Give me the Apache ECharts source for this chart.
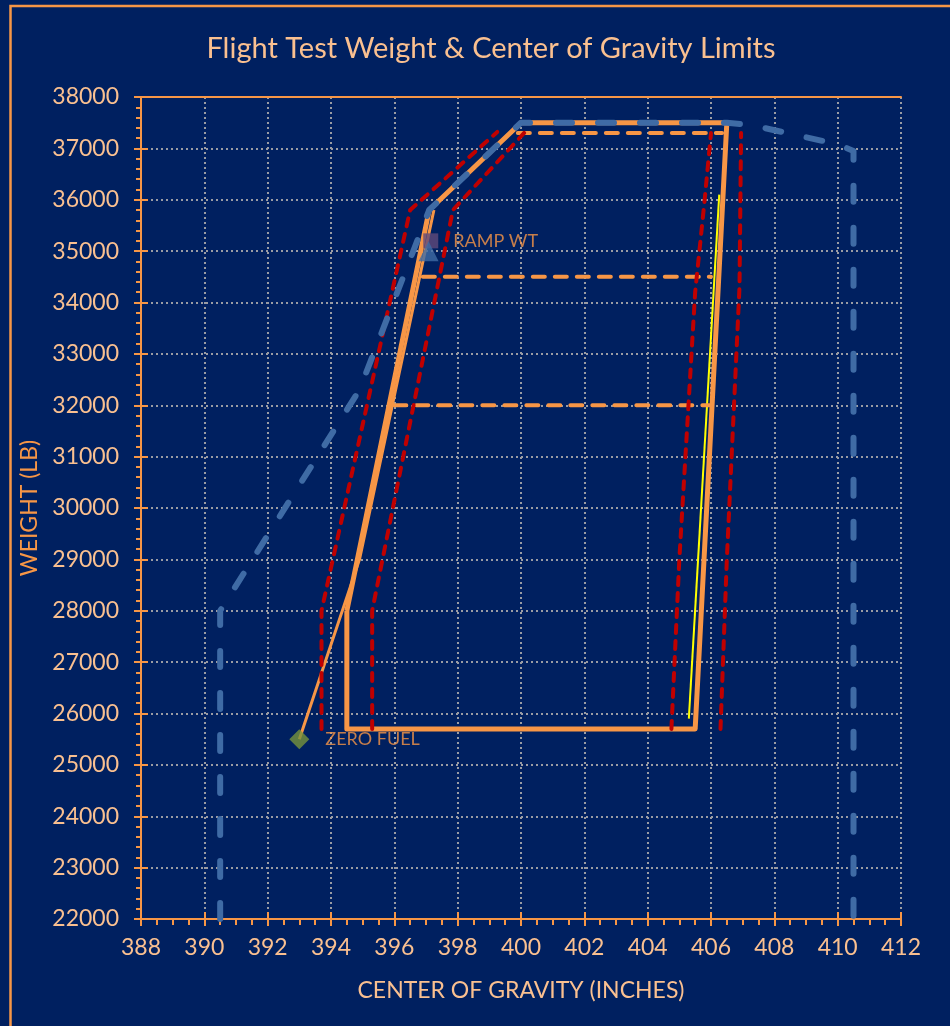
<!DOCTYPE html>
<html>
<head>
<meta charset="utf-8">
<script src="https://cdn.jsdelivr.net/npm/echarts@6/dist/echarts.min.js"></script>
<style>
  html, body { margin: 0; padding: 0; background: #002060; }
  #chart { width: 950px; height: 1026px; }
</style>
</head>
<body>
<div id="chart"></div>
<script>
// CG (inches) / weight (lb) pairs
const envelope = [[394.5, 28000], [394.5, 25700], [405.5, 25700], [406.5, 37500], [400, 37500], [397.1, 35800], [394.5, 28000]];
const fuelBurn = [[393, 25500], [394.9, 29000], [397.25, 35800]];
const aftLimitLine = [[405.3, 25900], [406.26, 36100]];
const wtLine37300 = [[399.9, 37300], [406.35, 37300]];
const wtLine34500 = [[396.9, 34500], [406.0, 34500]];
const wtLine32000 = [[396.0, 32000], [405.95, 32000]];
const fwdOuter = [[393.7, 25700], [393.7, 28000], [396.5, 35800], [399.25, 37320]];
const fwdInner = [[395.3, 25700], [395.3, 28000], [397.85, 35800], [400.1, 37300]];
const aftInner = [[404.75, 25700], [405.0, 29000], [405.5, 34200], [405.8, 36000], [406.0, 37300]];
const aftOuter = [[406.3, 25700], [406.5, 29000], [406.9, 34300], [406.95, 37300]];
const certLimits = [[390.5, 22000], [390.5, 28000], [394.9, 32300], [397.1, 35800], [400, 37500],
  [406.5, 37500], [407.3, 37450], [410.0, 37080], [410.5, 36950], [410.5, 22000]];
const zeroFuel = [393, 25500];
const rampWt = [397.15, 35200];
const takeoffWt = [397.08, 35000];

const ORANGE = '#f79646';
const PEACH = '#fac090';
const FONT = 'Lato';
const GRID_LINE = { show: true, lineStyle: { color: '#9a9ca4', width: 2, type: [2, 3] } };

const chart = echarts.init(document.getElementById('chart'));

const tickLabel = { color: PEACH, fontSize: 23, fontFamily: FONT };
const baseX = { type: 'value', min: 388, max: 412, interval: 2 };
const baseY = { type: 'value', min: 22000, max: 38000, interval: 1000 };

function lineSeries(data, color, width, type, cap, z) {
  return {
    type: 'line',
    data: data,
    showSymbol: false,
    silent: true,
    z: z,
    lineStyle: { color: color, width: width, type: type, cap: cap, join: 'round' }
  };
}

chart.setOption({
  backgroundColor: '#002060',
  animation: false,
  title: {
    text: 'Flight Test Weight & Center of Gravity Limits',
    left: 486,
    top: 29,
    textAlign: 'center',
    textStyle: { color: PEACH, fontSize: 29, fontWeight: 'normal', fontFamily: FONT }
  },
  graphic: [{
    type: 'rect',
    shape: { x: 10.5, y: 6, width: 960, height: 1040 },
    style: { fill: 'none', stroke: ORANGE, lineWidth: 2.5 },
    silent: true
  }],
  grid: { left: 141, right: 49, top: 97, bottom: 107 },
  xAxis: [
    Object.assign({}, baseX, {
      position: 'bottom',
      name: 'CENTER OF GRAVITY (INCHES)',
      nameLocation: 'middle',
      nameGap: 60,
      nameTextStyle: { color: PEACH, fontSize: 23, fontFamily: FONT },
      axisLine: { show: true, lineStyle: { color: ORANGE, width: 2 } },
      axisTick: { show: true, length: 7, lineStyle: { color: ORANGE, width: 2 } },
      minorTick: { show: true, splitNumber: 4, length: 6, lineStyle: { color: ORANGE, width: 2 } },
      axisLabel: Object.assign({ margin: 17 }, tickLabel),
      splitLine: GRID_LINE
    }),
    Object.assign({}, baseX, {
      position: 'bottom',
      axisLine: { show: false },
      axisTick: { show: true, inside: true, length: 7, lineStyle: { color: ORANGE, width: 2 } },
      axisLabel: { show: false },
      splitLine: { show: false }
    }),
    Object.assign({}, baseX, {
      position: 'top',
      axisLine: { show: true, lineStyle: { color: ORANGE, width: 2 } },
      axisTick: { show: false },
      axisLabel: { show: false },
      splitLine: { show: false }
    })
  ],
  yAxis: [
    Object.assign({}, baseY, {
      position: 'left',
      name: 'WEIGHT (LB)',
      nameLocation: 'middle',
      nameRotate: 90,
      nameGap: 95,
      nameTextStyle: { color: ORANGE, fontSize: 23, fontFamily: FONT },
      axisLine: { show: true, lineStyle: { color: ORANGE, width: 2 } },
      axisTick: { show: true, length: 7, lineStyle: { color: ORANGE, width: 2 } },
      minorTick: { show: true, splitNumber: 5, length: 5, lineStyle: { color: ORANGE, width: 2 } },
      axisLabel: Object.assign({ margin: 22, formatter: v => String(v) }, tickLabel),
      splitLine: GRID_LINE
    }),
    Object.assign({}, baseY, {
      position: 'left',
      axisLine: { show: false },
      axisTick: { show: true, inside: true, length: 7, lineStyle: { color: ORANGE, width: 2 } },
      axisLabel: { show: false },
      splitLine: { show: false }
    })
  ],
  series: [
    lineSeries(envelope, ORANGE, 5, 'solid', 'butt', 2),
    lineSeries(fuelBurn, ORANGE, 3, 'solid', 'butt', 3),
    lineSeries(aftLimitLine, '#ffff00', 2, 'solid', 'butt', 3),
    lineSeries(wtLine37300, ORANGE, 4, [12, 10], 'round', 4),
    lineSeries(wtLine34500, ORANGE, 4, [12, 10], 'round', 4),
    lineSeries(wtLine32000, ORANGE, 4, [12, 10], 'round', 4),
    lineSeries(fwdOuter, '#c00000', 4, [8, 8], 'round', 5),
    lineSeries(fwdInner, '#c00000', 4, [8, 8], 'round', 5),
    lineSeries(aftInner, '#c00000', 4, [8, 8], 'round', 5),
    lineSeries(aftOuter, '#c00000', 4, [8, 8], 'round', 5),
    lineSeries(certLimits, '#3f6ba5', 6, [16, 26], 'round', 6),
    {
      type: 'scatter', z: 7, silent: true,
      data: [zeroFuel],
      symbol: 'diamond', symbolSize: 20,
      itemStyle: { color: '#77933c' },
      label: { show: true, position: 'right', distance: 16, formatter: 'ZERO FUEL', color: ORANGE, fontSize: 18, fontFamily: FONT }
    },
    {
      type: 'scatter', z: 7, silent: true,
      data: [rampWt],
      symbol: 'rect', symbolSize: 15,
      itemStyle: { color: '#604a7b' },
      label: { show: true, position: 'right', distance: 15, formatter: 'RAMP WT', color: ORANGE, fontSize: 18, fontFamily: FONT }
    },
    {
      type: 'scatter', z: 8, silent: true,
      data: [takeoffWt],
      symbol: 'triangle', symbolSize: 20,
      itemStyle: { color: '#3f6ba5' }
    }
  ]
});
</script>
</body>
</html>
